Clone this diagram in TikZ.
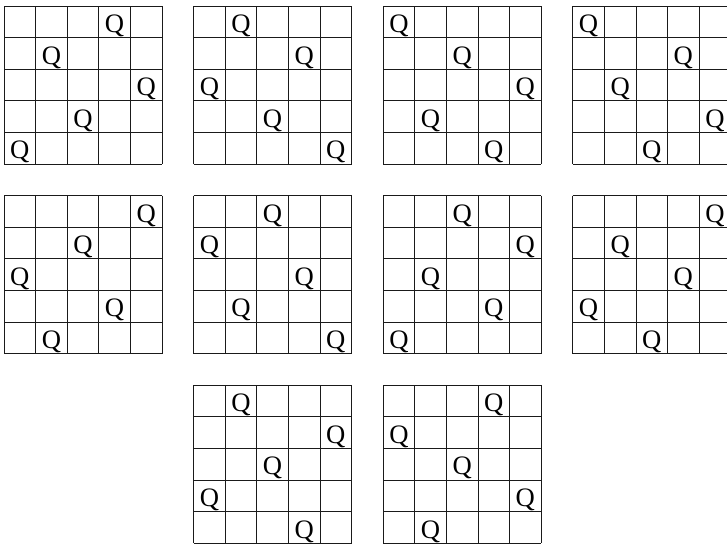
\documentclass[tikz,border=0pt]{standalone}
\usepackage{fontspec}
\setmainfont{Liberation Serif}
\usetikzlibrary{positioning}
\definecolor{gridline}{HTML}{1A1A1A}

\begin{document}
\begin{tikzpicture}
  % ---------- page frame (reference proportions) ----------
  \useasboundingbox (0,0) rectangle (23.01,-17.25);

  \tikzset{
    board/.style={gridline, line width=0.75pt},
    queen/.style={font=\fontsize{24}{24}\selectfont, inner sep=0pt, anchor=base}
  }

  % ---------- ten 5x5 solutions: left x / top y / queen column per row ----------
  \foreach \bx/\by/\qs [count=\b] in {
      0.127/-0.19/{4,2,5,3,1},  6.127/-0.19/{2,4,1,3,5},
      12.127/-0.19/{1,3,5,2,4}, 18.127/-0.19/{1,4,2,5,3},
      0.127/-6.19/{5,3,1,4,2},  6.127/-6.19/{3,1,4,2,5},
      12.127/-6.19/{3,5,2,4,1}, 18.127/-6.19/{5,2,4,1,3},
      6.127/-12.19/{2,5,3,1,4}, 12.127/-12.19/{4,1,3,5,2}} {
    \begin{scope}[shift={(\bx,\by)}]
      % grid lines
      \foreach \k in {0,...,5} {
        \draw[board] (\k,0) -- (\k,-5);
        \draw[board] (0,-\k) -- (5,-\k);
      }
      % queens, one per row
      \foreach \c [count=\r] in \qs {
        \node[queen] (q-\b-\r) at ({\c-0.5},{-\r+0.16}) {Q};
      }
    \end{scope}
  }
\end{tikzpicture}
\end{document}
